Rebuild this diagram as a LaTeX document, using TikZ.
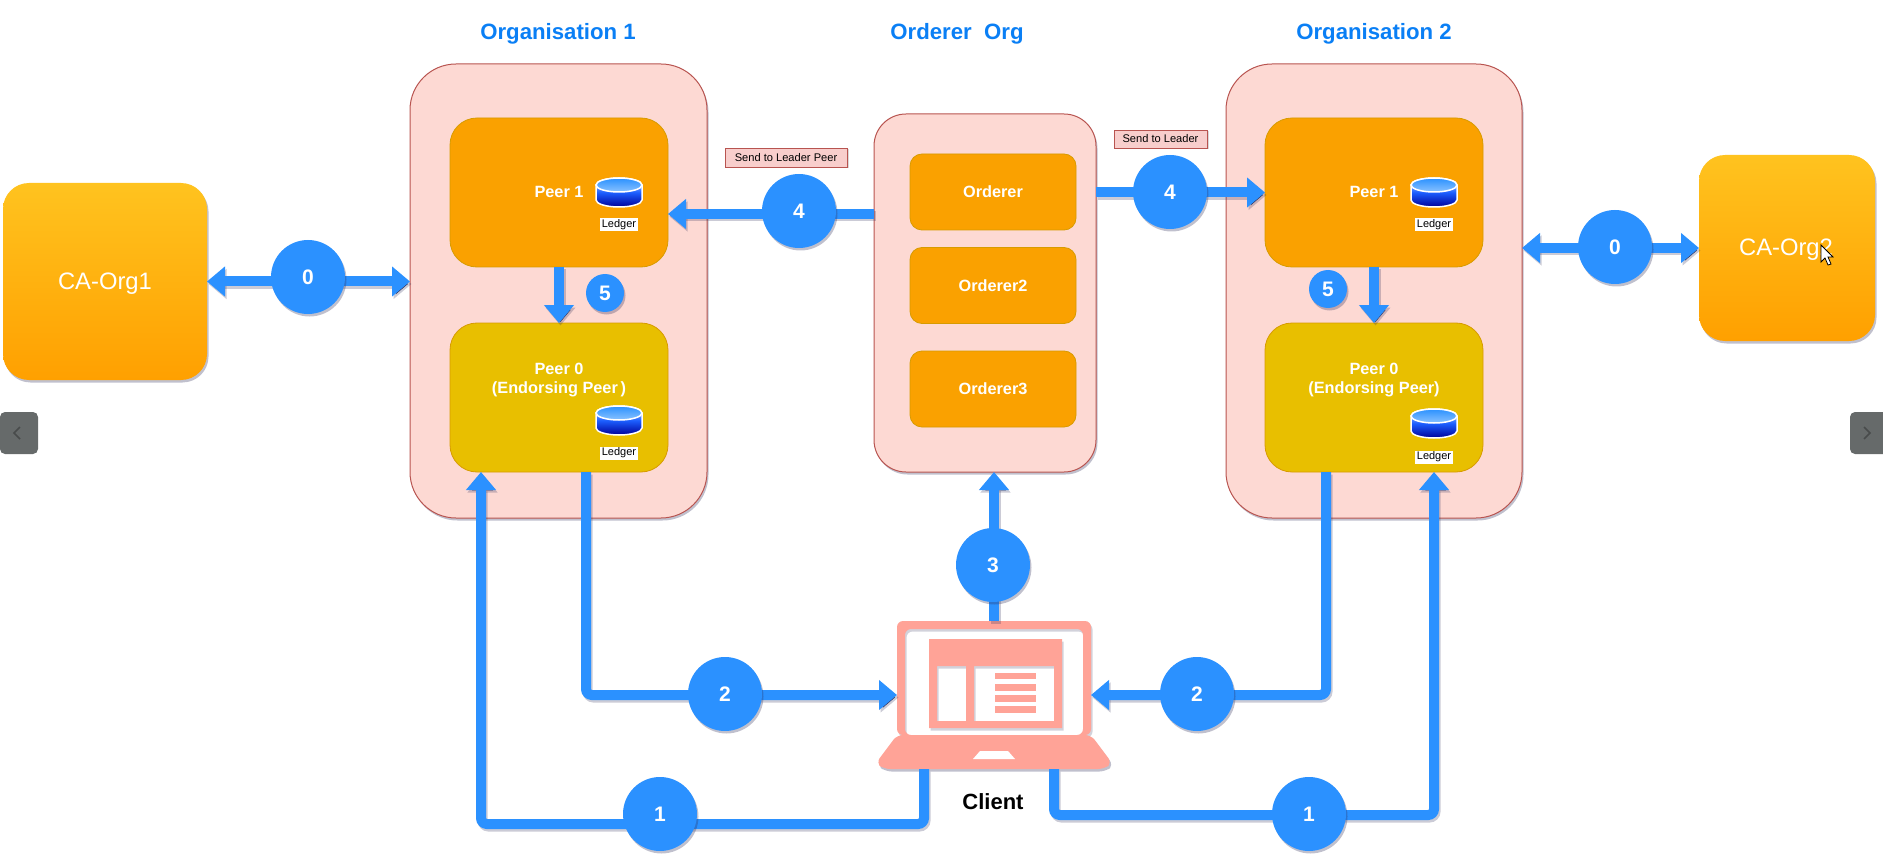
\documentclass[tikz,border=0pt]{standalone}
\usepackage{fontspec}
\setmainfont{Liberation Sans}
\usetikzlibrary{arrows.meta,shadows}
\definecolor{flowblue}{HTML}{2B91FF}
\definecolor{orgpink}{HTML}{FDD9D3}
\definecolor{orgline}{HTML}{B85450}
\definecolor{peerorange}{HTML}{FAA100}
\definecolor{peerline}{HTML}{D79B00}
\definecolor{peergold}{HTML}{E8BF00}
\definecolor{titleblue}{HTML}{0A7FF5}
\definecolor{laptoppink}{HTML}{FFA397}
\definecolor{sendpink}{HTML}{F8CECC}
\definecolor{navgrey}{HTML}{666A6A}
\definecolor{navmark}{HTML}{484B4B}
\definecolor{catop}{HTML}{FFC31F}
\definecolor{cabottom}{HTML}{FFA000}
\definecolor{shadowblue}{HTML}{30305A}
\tikzset{
  softshadow/.style={drop shadow={shadow xshift=1.5pt,shadow yshift=-2.5pt,fill=shadowblue,opacity=.3}},
  orgbox/.style={draw=orgline,line width=1pt,fill=orgpink,rounded corners=46pt,inner sep=0pt,outer sep=0pt,softshadow},
  peerbox/.style={draw=peerline,line width=.8pt,fill=peerorange,rounded corners=27pt,minimum width=218pt,minimum height=149pt,inner sep=0pt,outer sep=0pt},
  ordererbox/.style={draw=peerline,line width=.8pt,fill=peerorange,rounded corners=12pt,minimum width=166pt,minimum height=76pt,inner sep=0pt,outer sep=0pt,
    text=white,font=\fontsize{16.3}{19.5}\selectfont\bfseries},
  cabox/.style={top color=catop,bottom color=cabottom,rounded corners=26pt,inner sep=0pt,outer sep=0pt,softshadow},
  catext/.style={text=white,inner sep=0pt,font=\fontsize{23.8}{28}\selectfont},
  peertext/.style={text=white,align=center,inner sep=0pt,font=\fontsize{16.3}{19.5}\selectfont\bfseries},
  titletext/.style={text=titleblue,inner sep=0pt,font=\fontsize{22.2}{26}\selectfont\bfseries},
  stepnum/.style={circle,fill=flowblue,text=white,inner sep=0pt,minimum size=74pt,softshadow,font=\fontsize{21}{25}\selectfont\bfseries},
  stepsmall/.style={stepnum,minimum size=38pt},
  ledgertag/.style={fill=white,text=black,inner sep=0pt,minimum width=38pt,minimum height=13pt,font=\fontsize{11}{13}\selectfont},
  ledgerdb/.pic={
    \path[draw=white,line width=1.5pt,top color=white!75!flowblue,bottom color=blue!60!black,middle color=blue!35!flowblue]
      (-23,-7) -- (-23,8) arc[start angle=180,end angle=360,x radius=23pt,y radius=7pt]
      -- (23,-7) arc[start angle=0,end angle=180,x radius=23pt,y radius=7pt] -- cycle;
    \path[draw=white,line width=1.5pt,top color=flowblue,bottom color=white!45!flowblue]
      (0,-7) ellipse[x radius=23pt,y radius=7pt];
  },
  sendtag/.style={draw=orgline,fill=sendpink,text=black,inner sep=0pt,font=\fontsize{11.1}{13}\selectfont,
    drop shadow={shadow xshift=1.5pt,shadow yshift=-1.5pt,opacity=.3}},
  flow/.style={preaction={draw=shadowblue,draw opacity=.25,line width=10pt,rounded corners=6pt,transform canvas={shift={(1.5pt,-2.5pt)}}},
    draw=flowblue,line width=10pt,rounded corners=6pt,-{Triangle[width=29pt,length=18pt]}},
  flowboth/.style={flow,{Triangle[width=29pt,length=18pt]}-{Triangle[width=29pt,length=18pt]}},
  laptopshape/.style={fill=laptoppink,even odd rule},
  laptopshade/.style={fill=shadowblue,fill opacity=.22,even odd rule,shift={(1.5pt,-2.5pt)}},
  navbox/.style={fill=navgrey,rounded corners=5pt,inner sep=0pt,outer sep=0pt,minimum width=38pt,minimum height=42pt}
}
\begin{document}
\begin{tikzpicture}[x=1pt,y=-1pt]
    \useasboundingbox (0,0) rectangle (1883,861);

    \node[titletext] (title1) at (558,33.5) {Organisation 1};
    \node[titletext] (titleO) at (957,33.5) {Orderer\ \ Org};
    \node[titletext] (title2) at (1374,33.5) {Organisation 2};

    % the two CA boxes
    \node[cabox,minimum width=204pt,minimum height=197pt] (caorg1) at (105,281.5) {};
    \node[catext] (caorg1text) at (105,284) {CA-Org1};
    \node[cabox,minimum width=176pt,minimum height=186pt] (caorg2) at (1787,248) {};
    \node[catext] (caorg2text) at (1786,250) {CA-Org2};

    % the three big boxes
    \node[orgbox,minimum width=297pt,minimum height=454pt] (org1) at (558.5,291) {};
    \node[orgbox,minimum width=222pt,minimum height=358pt,rounded corners=32pt] (ordererorg) at (985,293) {};
    \node[orgbox,minimum width=296pt,minimum height=454pt] (org2) at (1374,291) {};

    \node[peerbox] (peer1a) at (559,192.5) {};
    \node[peerbox,fill=peergold] (peer0a) at (559,397.5) {};
    \node[peerbox] (peer1b) at (1374,192.5) {};
    \node[peerbox,fill=peergold] (peer0b) at (1374,397.5) {};

    \node[peertext] (peer1atext) at (559,192) {Peer 1};
    \node[peertext] (peer0atext) at (559,380) {Peer 0\\(Endorsing Peer\,)};
    \node[peertext] (peer1btext) at (1374,192) {Peer 1};
    \node[peertext] (peer0btext) at (1374,380) {Peer 0\\(Endorsing Peer)};

    \node[ordererbox] (orderer1) at (993,192) {Orderer};
    \node[ordererbox] (orderer2) at (993,285.5) {Orderer2};
    \node[ordererbox] (orderer3) at (993,389) {Orderer3};

    % ledgers
    \pic at (619,192) {ledgerdb};
    \node[ledgertag] (ledger1a) at (619,225) {Ledger};
    \pic at (619,420) {ledgerdb};
    \node[ledgertag] (ledger0a) at (619,453) {Ledger};
    \pic at (1434,192) {ledgerdb};
    \node[ledgertag] (ledger1b) at (1434,225) {Ledger};
    \pic at (1434,423) {ledgerdb};
    \node[ledgertag] (ledger0b) at (1434,457) {Ledger};

    \node[sendtag,minimum width=122pt,minimum height=19pt] (sendpeer) at (786,157.5) {Send to Leader Peer};
    \node[sendtag,minimum width=93pt,minimum height=18pt] (sendlead) at (1160.5,139) {Send to Leader};

    % laptop
    \node[inner sep=0pt,outer sep=0pt,minimum width=194pt,minimum height=148pt] (client) at (994,695) {};
    \path[laptopshade,rounded corners=6pt] (897,735) -- (897,621) -- (1091,621) -- (1091,735) -- cycle
      (905,735) -- (905,629) -- (1083,629) -- (1083,735) -- cycle;
    \path[laptopshape,rounded corners=6pt] (897,735) -- (897,621) -- (1091,621) -- (1091,735) -- cycle
      (905,735) -- (905,629) -- (1083,629) -- (1083,735) -- cycle;
    \path[fill=laptoppink,rounded corners=6pt,softshadow] (897,735) -- (1091,735) -- (1112,763) -- (1104,769) -- (884,769) -- (876,763) -- cycle;
    \fill[white] (973,759) -- (980,751) -- (1008,751) -- (1015,759) -- cycle;
    \path[laptopshade] (929,639) rectangle (1062,728) (937,666) rectangle (966,721) (974,666) rectangle (1054,721);
    \path[laptopshape] (929,639) rectangle (1062,728) (937,666) rectangle (966,721) (974,666) rectangle (1054,721);
    \fill[laptoppink] (995,673) rectangle (1036,679);
    \fill[laptoppink] (995,684) rectangle (1036,691);
    \fill[laptoppink] (995,695) rectangle (1036,702);
    \fill[laptoppink] (995,706) rectangle (1036,713);
    \node[inner sep=0pt,font=\fontsize{22}{26}\selectfont\bfseries] (clienttext) at (993,802) {Client};

    % free ends of the connectors
    \coordinate (send4a) at (668,214);
    \coordinate (out1a) at (924,769);
    \coordinate (turn1a) at (481,824);
    \coordinate (out1b) at (1054,769);
    \coordinate (turn1b) at (1434,815);
    \coordinate (out2a) at (586,472);
    \coordinate (out2b) at (1326,472);

    \draw[flowboth] (caorg1.east) -- (org1.west |- caorg1.east);
    \draw[flowboth] (org2.east |- caorg2.west) -- (caorg2.west);
    \draw[flow] (peer1a.south) -- (peer0a.north);
    \draw[flow] (peer1b.south) -- (peer0b.north);
    \draw[flow] (ordererorg.west |- send4a) -- (send4a);
    \draw[flow] (ordererorg.east |- peer1b.west) -- (peer1b.west);
    \draw[flow] (client.north) -- (client.north |- ordererorg.south);
    \draw[flow] (out2a) |- (client.west);
    \draw[flow] (out2b) |- (client.east);
    \draw[flow] (out1a) |- (turn1a) -- (turn1a |- peer0a.south);
    \draw[flow] (out1b) |- (turn1b) -- (turn1b |- peer0b.south);

    % step numbers
    \node[stepnum] (step0a) at (308,277) {0};
    \node[stepnum] (step0b) at (1615,247) {0};
    \node[stepnum] (step1a) at (660,814) {1};
    \node[stepnum] (step1b) at (1309,814) {1};
    \node[stepnum] (step2a) at (725,694) {2};
    \node[stepnum] (step2b) at (1197,694) {2};
    \node[stepnum] (step3) at (993,565) {3};
    \node[stepnum] (step4a) at (799,211) {4};
    \node[stepnum] (step4b) at (1170,192) {4};
    \node[stepsmall] (step5a) at (605,293) {5};
    \node[stepsmall] (step5b) at (1328,289) {5};

    % slide buttons and pointer of the screenshot
    \node[navbox] (navl) at (19,433) {};
    \node[navbox] (navr) at (1869,433) {};
    \draw[navmark,line width=1.5pt] (20,427) -- (14,433) -- (20,439);
    \draw[navmark,line width=1.5pt] (1864,427) -- (1870,433) -- (1864,439);
    \draw[black,fill=white,line width=.8pt] (1821,245) -- (1821,262) -- (1825,258) -- (1828,265) -- (1831,264) -- (1828,257) -- (1833,257) -- cycle;
\end{tikzpicture}
\end{document}
